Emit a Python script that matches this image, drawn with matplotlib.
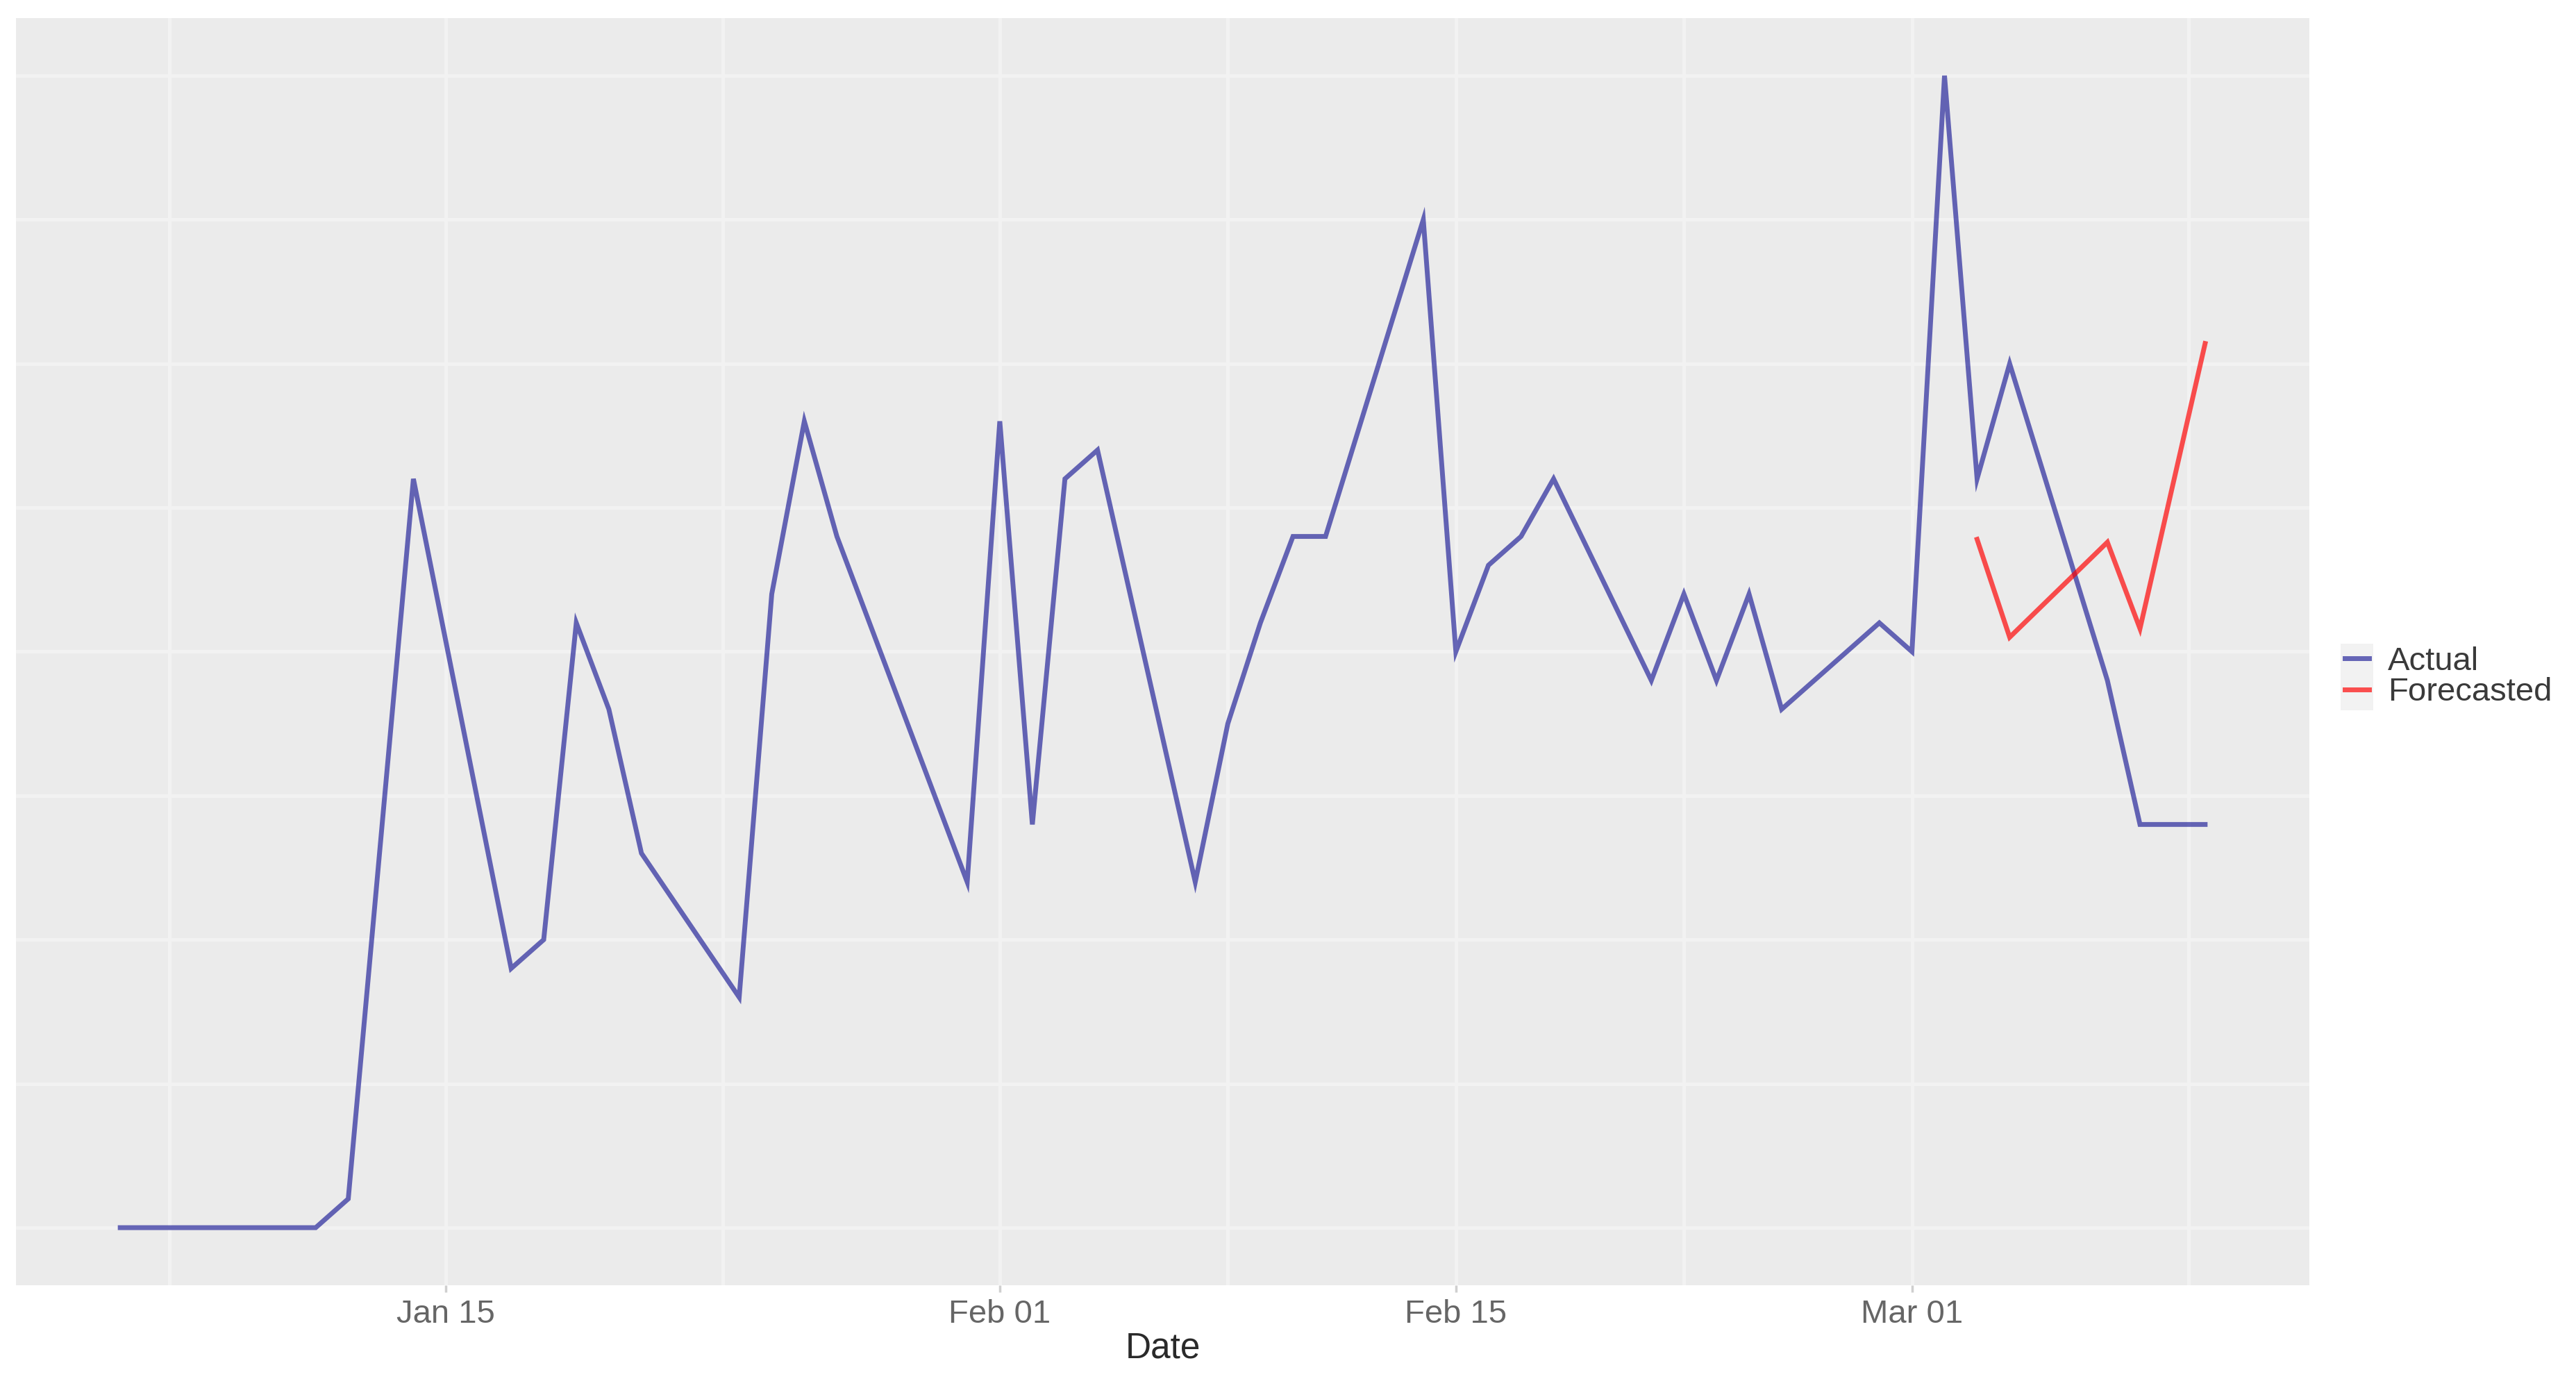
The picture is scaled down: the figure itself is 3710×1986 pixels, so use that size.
import matplotlib
matplotlib.use("Agg")
import matplotlib.pyplot as plt
import matplotlib.dates as mdates
from matplotlib.patches import Rectangle
import numpy as np

# ---------------- data ----------------
actual_dates = ["2021-01-05", "2021-01-11", "2021-01-12", "2021-01-14", "2021-01-17",
                "2021-01-18", "2021-01-19", "2021-01-20", "2021-01-21", "2021-01-24",
                "2021-01-25", "2021-01-26", "2021-01-27", "2021-01-31", "2021-02-01",
                "2021-02-02", "2021-02-03", "2021-02-04", "2021-02-07", "2021-02-08",
                "2021-02-09", "2021-02-10", "2021-02-11", "2021-02-14", "2021-02-15",
                "2021-02-16", "2021-02-17", "2021-02-18", "2021-02-21", "2021-02-22",
                "2021-02-23", "2021-02-24", "2021-02-25", "2021-02-28", "2021-03-01",
                "2021-03-02", "2021-03-03", "2021-03-04", "2021-03-07", "2021-03-08",
                "2021-03-10"]
actual_values = [0, 0, 1, 26, 9,
                 10, 21, 18, 13, 8,
                 22, 28, 24, 12, 28,
                 14, 26, 27, 12, 17.5,
                 21, 24, 24, 35, 20,
                 23, 24, 26, 19, 22,
                 19, 22, 18, 21, 20,
                 40, 26, 30, 19, 14,
                 14]

forecast_dates = ["2021-03-03", "2021-03-04", "2021-03-07", "2021-03-08", "2021-03-10"]
forecast_values = [23.9, 20.5, 23.8, 20.8, 30.7]

series_labels = ["Actual", "Forecasted"]
x_tick_dates = ["2021-01-15", "2021-02-01", "2021-02-15", "2021-03-01"]
x_tick_labels = ["Jan 15", "Feb 01", "Feb 15", "Mar 01"]
x_minor_dates = ["2021-01-06T12:00", "2021-01-23T12:00", "2021-02-08", "2021-02-22", "2021-03-09T12:00"]
y_grid = [0, 5, 10, 15, 20, 25, 30, 35, 40]
x_title = "Date"

# ---------------- style ----------------
W, H, DPI = 3710, 1986, 100
plt.rcParams["font.family"] = ["Liberation Sans", "DejaVu Sans"]

fig = plt.figure(figsize=(W / DPI, H / DPI), dpi=DPI, facecolor="white")
L, R, T, B = 23, 3326, 26, 1851
ax = fig.add_axes([L / W, 1 - B / H, (R - L) / W, (B - T) / H])
ax.set_facecolor("#EBEBEB")
for s in ax.spines.values():
    s.set_visible(False)

to_num = lambda lst: mdates.date2num(np.array(lst, dtype="datetime64[m]"))
xa = to_num(actual_dates)
xf = to_num(forecast_dates)

# limits with ggplot-like 5% expansion
allx = np.concatenate([xa, xf])
ally = np.concatenate([actual_values, forecast_values])
xpad = 0.05 * (allx.max() - allx.min())
ypad = 0.05 * (ally.max() - ally.min())
ax.set_xlim(allx.min() - xpad, allx.max() + xpad)
ax.set_ylim(ally.min() - ypad, ally.max() + ypad)

# grid
grid_kw = dict(color="#F2F2F2", linewidth=3.6, zorder=0.5)
ax.set_xticks(to_num(x_tick_dates))
ax.set_xticklabels(x_tick_labels)
ax.set_xticks(to_num(x_minor_dates), minor=True)
ax.set_yticks(y_grid)
ax.set_yticklabels([])
ax.grid(True, which="major", axis="both", **grid_kw)
ax.grid(True, which="minor", axis="x", **grid_kw)
ax.set_axisbelow(True)

ax.tick_params(axis="x", which="major", length=10 * 72 / DPI, width=2.5, color="#CFCFCF",
               pad=10 * 72 / DPI, labelsize=34, labelcolor="#666666")
ax.tick_params(axis="x", which="minor", length=0)
ax.tick_params(axis="y", which="both", length=0, labelleft=False)

# lines
ax.plot(xa, actual_values, color="#00008B", alpha=0.58, linewidth=5.0,
        solid_joinstyle="miter", label=series_labels[0], zorder=3)
ax.plot(xf, forecast_values, color="#FF0000", alpha=0.68, linewidth=5.0,
        solid_joinstyle="miter", label=series_labels[1], zorder=3)

# x title
ax.set_xlabel(x_title, fontsize=37, color="#2A2A2A")
ax.xaxis.set_label_coords(0.5, -(1942 - B) / (B - T))
ax.xaxis.label.set_va("center")

# legend key backgrounds (ggplot legend.key fill)
for y0, y1 in [(927, 975), (975, 1023)]:
    fig.patches.append(Rectangle((3371 / W, 1 - y1 / H), 47 / W, (y1 - y0) / H,
                                 transform=fig.transFigure, facecolor="#F2F2F2",
                                 edgecolor="none", zorder=-1))

leg = ax.legend(loc="center left", bbox_to_anchor=(3377 / W, 1 - 975 / H),
                bbox_transform=fig.transFigure, frameon=False, fontsize=34,
                handlelength=0.74, handletextpad=0.58, labelspacing=0.02,
                borderpad=0, borderaxespad=0)
for t in leg.get_texts():
    t.set_color("#3A3A3A")

fig.savefig("out.png", dpi=DPI, facecolor="white")
